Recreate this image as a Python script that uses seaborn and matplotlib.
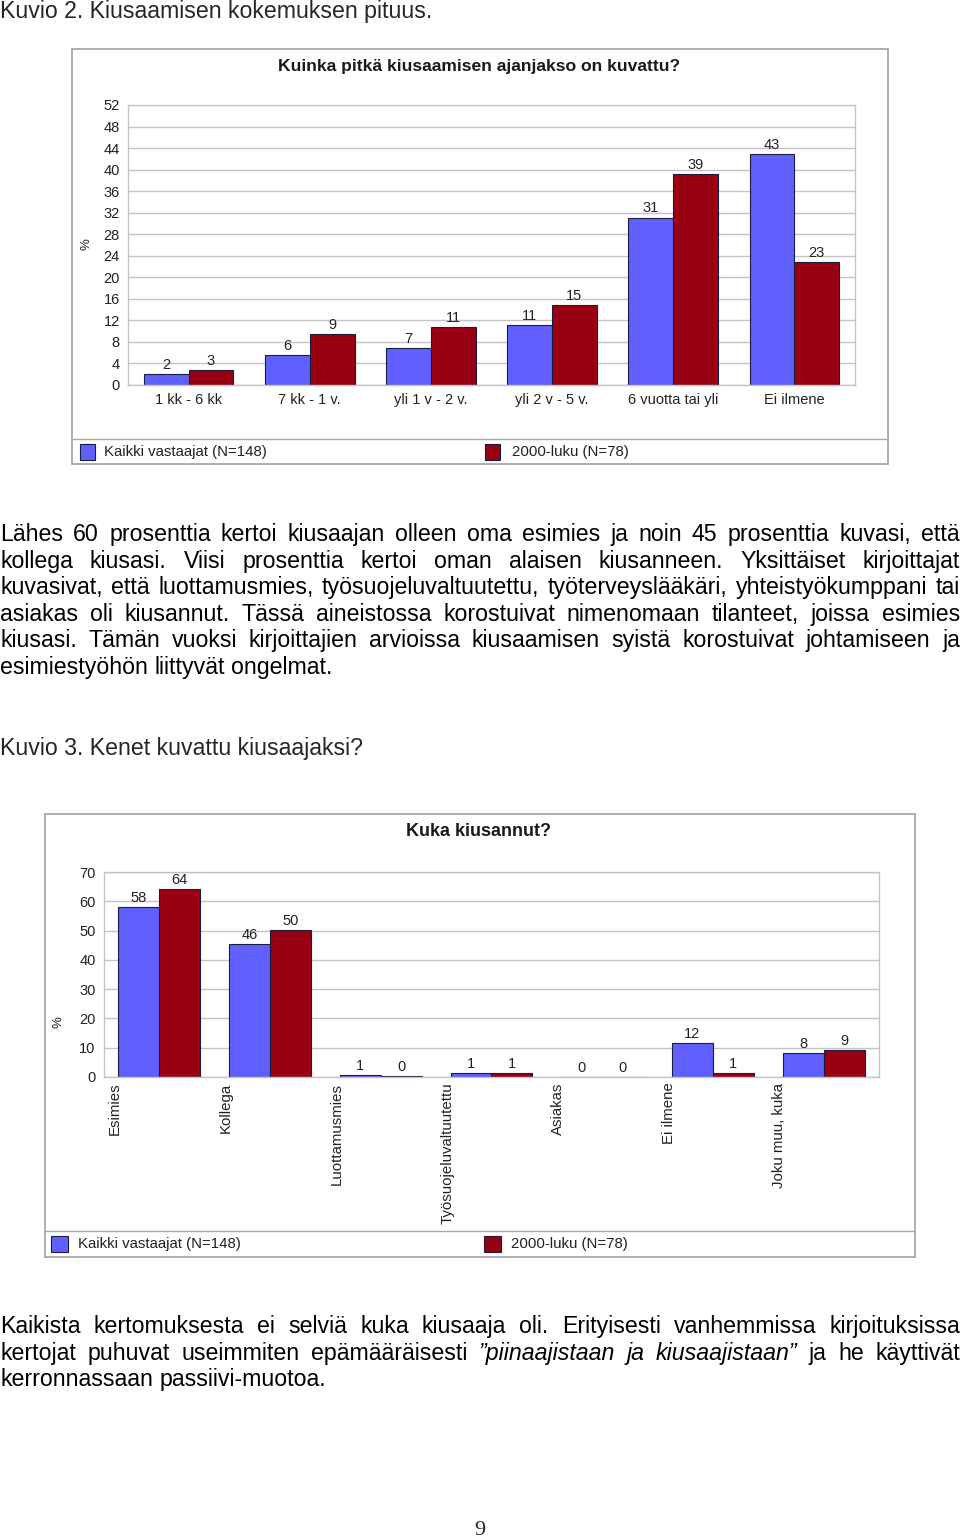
import numpy as np
import pandas as pd
import matplotlib
matplotlib.use("Agg")
import matplotlib.pyplot as plt
import matplotlib.transforms as mtransforms
from matplotlib.patches import Rectangle
from matplotlib.lines import Line2D
import seaborn as sns

sns.set_theme(style="white")
plt.rcParams["font.family"] = ["Liberation Sans", "DejaVu Sans"]

# ---------------- data ----------------
SERIES = ["Kaikki vastaajat (N=148)", "2000-luku (N=78)"]
COLORS = ["#6060ff", "#990012"]

DUR_TITLE = "Kuinka pitkä kiusaamisen ajanjakso on kuvattu?"
DUR_CATS = ["1 kk - 6 kk", "7 kk - 1 v.", "yli 1 v - 2 v.", "yli 2 v - 5 v.",
            "6 vuotta tai yli", "Ei ilmene"]
DUR_ALL = [2.1, 5.6, 6.9, 11.1, 31.1, 42.9]
DUR_2000 = [2.7, 9.4, 10.8, 14.9, 39.2, 22.9]
DUR_TICKS = list(range(0, 53, 4))

WHO_TITLE = "Kuka kiusannut?"
WHO_CATS = ["Esimies", "Kollega", "Luottamusmies", "Työsuojeluvaltuutettu",
            "Asiakas", "Ei ilmene", "Joku muu, kuka"]
WHO_ALL = [58.1, 45.5, 0.8, 1.2, 0.1, 11.7, 8.1]
WHO_2000 = [64.2, 50.1, 0.2, 1.2, 0.1, 1.2, 9.3]
WHO_TICKS = list(range(0, 71, 10))

HEAD1 = "Kuvio 2. Kiusaamisen kokemuksen pituus."
HEAD2 = "Kuvio 3. Kenet kuvattu kiusaajaksi?"
PARA1 = [
    "Lähes 60 prosenttia kertoi kiusaajan olleen oma esimies ja noin 45 prosenttia kuvasi, että",
    "kollega kiusasi. Viisi prosenttia kertoi oman alaisen kiusanneen. Yksittäiset kirjoittajat",
    "kuvasivat, että luottamusmies, työsuojeluvaltuutettu, työterveyslääkäri, yhteistyökumppani tai",
    "asiakas oli kiusannut. Tässä aineistossa korostuivat nimenomaan tilanteet, joissa esimies",
    "kiusasi. Tämän vuoksi kirjoittajien arvioissa kiusaamisen syistä korostuivat johtamiseen ja",
    "esimiestyöhön liittyvät ongelmat.",
]
PARA2 = [
    "Kaikista kertomuksesta ei selviä kuka kiusaaja oli. Erityisesti vanhemmissa kirjoituksissa",
    "kertojat puhuvat useimmiten epämääräisesti *”piinaajistaan *ja *kiusaajistaan” ja he käyttivät",
    "kerronnassaan passiivi-muotoa.",
]
PAGE_NO = "9"

# ---------------- figure ----------------
W, H = 960, 1538
fig = plt.figure(figsize=(W / 100, H / 100), dpi=100)
fig.patch.set_facecolor("white")
PIX = mtransforms.Affine2D().scale(1 / W, -1 / H).translate(0, 1) + fig.transFigure
renderer = fig.canvas.get_renderer()

GRID = "#c4c4c4"
EDGE = "#1c1c3c"
FRAME = "#a8a8a8"


def axes_px(l, t, r, b):
    return fig.add_axes([l / W, 1 - b / H, (r - l) / W, (b - t) / H])


def long_df(cats, a, b):
    return pd.DataFrame({
        "cat": cats + cats,
        "val": a + b,
        "series": [SERIES[0]] * len(cats) + [SERIES[1]] * len(cats),
    })


def bar_chart(ax, cats, a, b, ticks):
    df = long_df(cats, a, b)
    sns.barplot(data=df, x="cat", y="val", hue="series", order=cats,
                hue_order=SERIES, palette=COLORS, saturation=1, width=0.74,
                gap=0, edgecolor=EDGE, linewidth=0.8, legend=False, ax=ax,
                errorbar=None)
    for c in ax.containers:
        ax.bar_label(c, fmt="%.0f", padding=1.5, fontsize=10.5, color="#222222")
    ax.set_xlim(-0.5, len(cats) - 0.5)
    ax.set_ylim(ticks[0], ticks[-1])
    ax.set_yticks(ticks)
    ax.yaxis.grid(True, color=GRID, linewidth=1.0)
    ax.set_axisbelow(True)
    for s in ax.spines.values():
        s.set_color(GRID)
        s.set_linewidth(1.0)
    ax.set_xlabel("")
    ax.set_ylabel("")
    ax.tick_params(axis="both", length=0, labelsize=10.5, labelcolor="#222222")
    ax.tick_params(axis="y", pad=6)


def frame(l, t, r, b, sep):
    fig.patches.append(Rectangle((l, t), r - l, b - t, transform=PIX,
                                 facecolor="none", edgecolor=FRAME, linewidth=1.3))
    fig.lines.append(Line2D([l, r], [sep, sep], transform=PIX, color=FRAME, linewidth=1.0))


def legend_px(items):
    for (sx, sy, sw, sh, tx), label, color in zip(items, SERIES, COLORS):
        fig.patches.append(Rectangle((sx, sy), sw, sh, transform=PIX,
                                     facecolor=color, edgecolor=EDGE, linewidth=0.8))
        fig.text(tx, sy + sh / 2, label, transform=PIX, fontsize=10.8,
                 va="center", ha="left", color="#222222")


# ---------- chart 1 ----------
frame(72, 49, 888, 464, 439)
fig.text(479, 67, DUR_TITLE, transform=PIX, fontsize=12.6, fontweight="bold",
         ha="center", va="center", color="#1a1a1a")
ax1 = axes_px(128, 105, 855, 385)
bar_chart(ax1, DUR_CATS, DUR_ALL, DUR_2000, DUR_TICKS)
ax1.tick_params(axis="x", pad=6)
fig.text(86, 244, "%", transform=PIX, rotation=90, fontsize=9.5, ha="center",
         va="center", color="#222222")
legend_px([(80, 444, 15, 16, 104), (485, 444, 15, 16, 512)])

# ---------- chart 2 ----------
frame(45, 814, 915, 1257, 1231)
fig.text(479, 832, WHO_TITLE, transform=PIX, fontsize=13, fontweight="bold",
         ha="center", va="center", color="#1a1a1a")
ax2 = axes_px(104, 872, 879, 1077)
bar_chart(ax2, WHO_CATS, WHO_ALL, WHO_2000, WHO_TICKS)
ax2.set_xticks(np.arange(len(WHO_CATS)) - 0.4)
ax2.set_xticklabels(WHO_CATS, rotation=90, va="top", ha="center", fontsize=10.8)
ax2.tick_params(axis="x", pad=4)
fig.text(59, 1022, "%", transform=PIX, rotation=90, fontsize=9.5, ha="center",
         va="center", color="#222222")
legend_px([(51, 1236, 17, 16, 78), (484, 1236, 17, 16, 511)])

# ---------- body text ----------
def measure(s, size, style="normal"):
    t = fig.text(0, 0, s, fontsize=size, style=style)
    w = t.get_window_extent(renderer).width
    t.remove()
    return w


def split_words(line):
    out = []
    for w in line.split(" "):
        if w.startswith("*"):
            out.append((w[1:], "italic"))
        else:
            out.append((w, "normal"))
    return out


base = measure(HEAD2, 10)
size = 10 * 366 / base
for ln in PARA1[:-1] + PARA2[:-1]:
    ws = split_words(ln)
    nat = sum(measure(w, size, st) for w, st in ws) + (len(ws) - 1) * size * 0.2
    if nat > 958:
        size *= 958 / nat


def draw_line(line, y, justify):
    ws = split_words(line)
    widths = [measure(w, size, st) for w, st in ws]
    if justify:
        gap = (W - sum(widths)) / (len(ws) - 1)
    else:
        gap = measure("a a", size) - measure("aa", size)
    x = 0
    for (w, st), wd in zip(ws, widths):
        fig.text(x, y, w, transform=PIX, fontsize=size, style=st,
                 ha="left", va="baseline", color="black")
        x += wd + gap


fig.text(0, 18, HEAD1, transform=PIX, fontsize=size, ha="left", va="baseline")
for i, ln in enumerate(PARA1):
    draw_line(ln, 541 + i * 26.6, i < len(PARA1) - 1)
fig.text(0, 755, HEAD2, transform=PIX, fontsize=size, ha="left", va="baseline")
for i, ln in enumerate(PARA2):
    draw_line(ln, 1333 + i * 26.6, i < len(PARA2) - 1)
fig.text(480, 1535, PAGE_NO, transform=PIX, fontsize=16, ha="center",
         va="baseline", family=["Liberation Serif", "DejaVu Serif"])

fig.savefig("out.png", dpi=100, facecolor="white")
